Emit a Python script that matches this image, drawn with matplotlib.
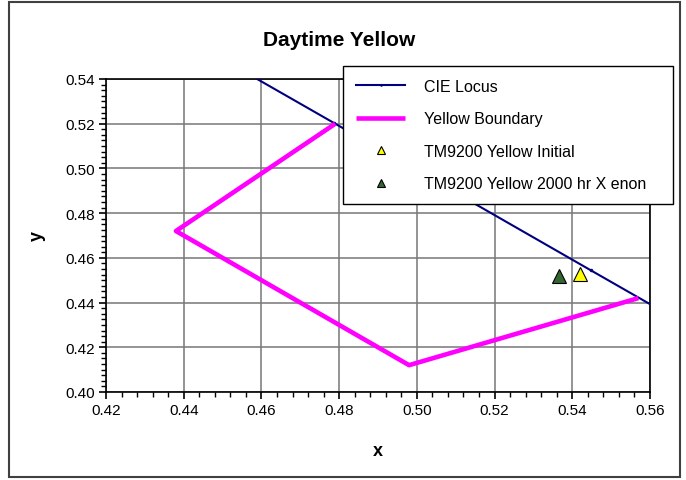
import numpy as np
import matplotlib
matplotlib.use("Agg")
import matplotlib.pyplot as plt
from matplotlib.ticker import MultipleLocator, FormatStrFormatter
from matplotlib.patches import Rectangle

plt.rcParams['font.family'] = ['Liberation Sans', 'DejaVu Sans']

# CIE 1931 spectral locus, 570-590 nm
locus_x = [0.4441, 0.4788, 0.5125, 0.5448, 0.5752]
locus_y = [0.5547, 0.5202, 0.4866, 0.4544, 0.4242]

# yellow chromaticity boundary
bound_x = [0.479, 0.438, 0.498, 0.557]
bound_y = [0.520, 0.472, 0.412, 0.442]

# measured samples
init_x, init_y = [0.5420], [0.4528]
xenon_x, xenon_y = [0.5365], [0.4520]

fig = plt.figure(figsize=(6.86, 4.81), dpi=100)
ax = fig.add_axes([106/686, 1 - 393/481, 544/686, 313/481])

ax.plot(locus_x, locus_y, color='#000080', lw=1.5, marker='.', ms=3,
        label='CIE Locus', zorder=3)
ax.plot(bound_x, bound_y, color='#FF00FF', lw=3.3, solid_capstyle='butt',
        label='Yellow Boundary', zorder=4)
ax.plot(init_x, init_y, ls='none', marker='^', ms=10, mfc='#FFFF00',
        mec='black', mew=0.8, label='TM9200 Yellow Initial', zorder=5)
ax.plot(xenon_x, xenon_y, ls='none', marker='^', ms=10, mfc='#336633',
        mec='black', mew=0.8, label='TM9200 Yellow 2000 hr X enon', zorder=5)

ax.set_xlim(0.42, 0.56)
ax.set_ylim(0.40, 0.54)
ax.xaxis.set_major_locator(MultipleLocator(0.02))
ax.xaxis.set_minor_locator(MultipleLocator(0.004))
ax.yaxis.set_major_locator(MultipleLocator(0.02))
ax.yaxis.set_minor_locator(MultipleLocator(0.0025))
ax.xaxis.set_major_formatter(FormatStrFormatter('%.2f'))
ax.yaxis.set_major_formatter(FormatStrFormatter('%.2f'))
ax.grid(True, which='major', color='#777777', lw=1.1)
ax.set_axisbelow(True)
ax.tick_params(which='major', direction='out', length=5, width=1.2,
               labelsize=11, colors='black', pad=3)
ax.tick_params(which='minor', direction='out', length=3.5, width=1.0)
for s in ax.spines.values():
    s.set_linewidth(1.2)
    s.set_color('black')

ax.set_xlabel('x', fontsize=13, fontweight='bold', labelpad=18)
ax.set_ylabel('y', fontsize=13, fontweight='bold', labelpad=14)
fig.text(339/686, 1 - 40/481, 'Daytime Yellow', fontsize=15,
         fontweight='bold', ha='center', va='center')

leg = ax.legend(loc='upper left', mode='expand',
                bbox_to_anchor=(343/686, 1 - 203/481, 330/686, 136/481),
                bbox_transform=fig.transFigure, borderaxespad=0,
                fontsize=11.5, frameon=True, fancybox=False, framealpha=1,
                handlelength=3.1, handletextpad=1.2, labelspacing=1.1,
                borderpad=0.8, markerscale=0.55)
leg.get_frame().set_edgecolor('black')
leg.get_frame().set_linewidth(1.0)
leg.set_zorder(10)

fig.patches.append(Rectangle((9/686, 3/481), 671/686, 475/481,
                             transform=fig.transFigure, fill=False,
                             edgecolor='#404040', lw=1.5))

fig.savefig('out.png', dpi=100)
